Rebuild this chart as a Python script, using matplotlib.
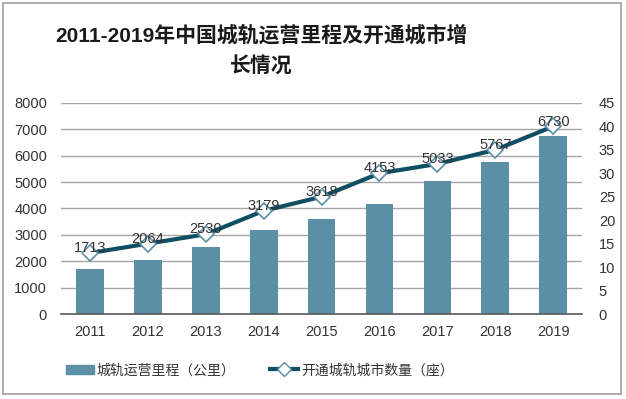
import matplotlib
matplotlib.use("Agg")
import matplotlib.pyplot as plt
from matplotlib.patches import Rectangle
from matplotlib.lines import Line2D
from matplotlib.patches import Patch

plt.rcParams['font.family'] = ['Liberation Sans', 'Noto Sans CJK SC', 'DejaVu Sans']

years = ['2011', '2012', '2013', '2014', '2015', '2016', '2017', '2018', '2019']
mileage = [1713, 2064, 2530, 3179, 3618, 4153, 5033, 5767, 6730]
cities = [13, 15, 17, 22, 25, 30, 32, 35, 40]

bar_color = '#5B8FA6'
line_color = '#0F4F63'
text_color = '#333333'

fig = plt.figure(figsize=(6.26, 3.99), dpi=100)
ax = fig.add_axes([0.0974, 0.213, 0.8326, 0.529])
ax2 = ax.twinx()

x = list(range(len(years)))
ax.bar(x, mileage, width=0.48, color=bar_color, zorder=2)
ax.set_xlim(-0.5, len(years) - 0.5)
ax.set_ylim(0, 8000)
ax.set_yticks(range(0, 8001, 1000))
ax.yaxis.grid(True, color='#A6A6A6', linewidth=1.0, zorder=0)
ax.set_axisbelow(True)
ax.set_xticks(x)
ax.set_xticklabels(years)
ax.tick_params(axis='both', length=0, labelsize=10.5, colors=text_color, pad=8)
ax.tick_params(axis='y', pad=10)
for s in ['top', 'left', 'right']:
    ax.spines[s].set_visible(False)
ax.spines['bottom'].set_color('#595959')
ax.spines['bottom'].set_linewidth(1.2)

ax2.plot(x, cities, color=line_color, linewidth=3, marker='D', markersize=8,
         markerfacecolor='white', markeredgecolor=bar_color, markeredgewidth=1.2, zorder=3)
ax2.set_ylim(0, 45)
ax2.set_yticks(range(0, 46, 5))
ax2.tick_params(axis='y', length=0, labelsize=10.5, colors=text_color, pad=12)
for s in ['top', 'left', 'right', 'bottom']:
    ax2.spines[s].set_visible(False)

for xi, m, c in zip(x, mileage, cities):
    ax2.annotate(str(m), (xi, c), xytext=(0, 3.5), textcoords='offset points',
                 ha='center', va='center', fontsize=10.5, color=text_color, zorder=4)

fig.text(0.417, 0.912, '2011-2019年中国城轨运营里程及开通城市增', ha='center', va='center',
         fontsize=15, fontweight='bold', color='#1a1a1a')
fig.text(0.417, 0.832, '长情况', ha='center', va='center',
         fontsize=15, fontweight='bold', color='#1a1a1a')

handles = [Patch(facecolor=bar_color, edgecolor=bar_color),
           Line2D([0], [0], color=line_color, linewidth=3, marker='D', markersize=7,
                  markerfacecolor='white', markeredgecolor=bar_color)]
labels = ['城轨运营里程（公里）', '开通城轨城市数量（座）']
fig.legend(handles, labels, loc='center', bbox_to_anchor=(0.415, 0.072), ncol=2,
           frameon=False, fontsize=10, handlelength=2.0, handletextpad=0.2,
           columnspacing=2.5, labelcolor=text_color)

fig.patches.append(Rectangle((0.004, 0.012), 0.988, 0.98, transform=fig.transFigure,
                             fill=False, edgecolor='#9E9E9E', linewidth=1.2))

fig.savefig('out.png', dpi=100)
